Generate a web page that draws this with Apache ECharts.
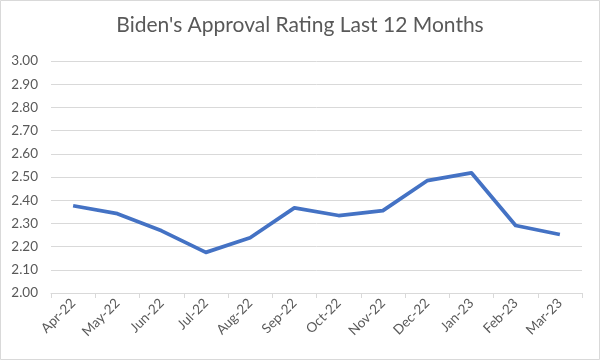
<!DOCTYPE html>
<html><head><meta charset="utf-8">
<script src="https://cdn.jsdelivr.net/npm/echarts@6/dist/echarts.min.js"></script>
<style>html,body{margin:0;padding:0;background:#fff}#c{width:600px;height:360px}</style>
</head><body><div id="c"></div>
<script>
const categories = ['Apr-22','May-22','Jun-22','Jul-22','Aug-22','Sep-22','Oct-22','Nov-22','Dec-22','Jan-23','Feb-23','Mar-23'];
const approval = [2.376, 2.342, 2.268, 2.175, 2.238, 2.367, 2.334, 2.355, 2.484, 2.518, 2.291, 2.252];
const chartTitle = "Biden's Approval Rating Last 12 Months";

const chart = echarts.init(document.getElementById('c'), null, {renderer:'canvas'});
const font = 'Lato, "Open Sans", sans-serif';
chart.setOption({
  animation:false,
  backgroundColor:'#fff',
  title:{text:chartTitle, left:'center', top:10, textStyle:{fontFamily:font, fontSize:21, fontWeight:'normal', color:'#595959'}},
  graphic:[{type:'rect', shape:{x:0.5,y:0.5,width:599,height:359}, style:{fill:'none', stroke:'#d9d9d9', lineWidth:1}, silent:true}],
  grid:{left:51, right:18, top:61, bottom:67},
  xAxis:{type:'category', data:categories, boundaryGap:true,
    axisLine:{lineStyle:{color:'#d9d9d9'}},
    axisTick:{show:true, length:5, lineStyle:{color:'#d9d9d9'}},
    axisLabel:{rotate:45, color:'#595959', fontFamily:font, fontSize:13.5, margin:8, interval:0}},
  yAxis:{type:'value', min:2, max:3, interval:0.1,
    axisLine:{show:false}, axisTick:{show:false},
    splitLine:{lineStyle:{color:'#d9d9d9'}},
    axisLabel:{formatter:v=>v.toFixed(2), color:'#595959', fontFamily:font, fontSize:13.5, margin:13}},
  series:[{type:'line', data:approval, symbol:'none', lineStyle:{color:'#4472C4', width:3.75, join:'round'}}]
});
</script></body></html>
